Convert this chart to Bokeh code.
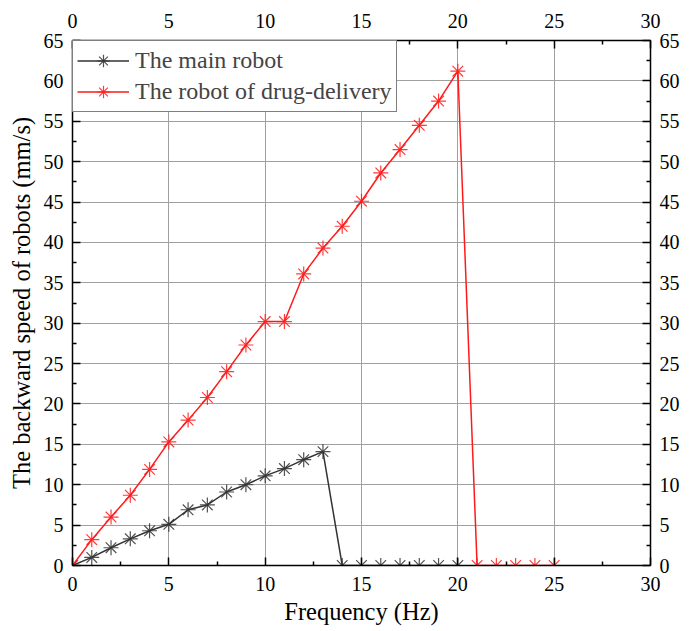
from bokeh.plotting import figure
from bokeh.models import Range1d, LinearAxis, FixedTicker, Legend, LegendItem, Grid
from bokeh.embed import file_html
from bokeh.resources import INLINE

freq_main = list(range(0, 21))
speed_main = [0, 1.0, 2.2, 3.3, 4.3, 5.1, 6.9, 7.5, 9.1, 10.0, 11.1, 12.0, 13.1, 14.1,
              0, 0, 0, 0, 0, 0, 0]
freq_drug = list(range(0, 26))
speed_drug = [0, 3.2, 6.0, 8.7, 11.9, 15.3, 18.0, 20.8, 24.0, 27.3, 30.2, 30.2, 36.1,
              39.3, 42.0, 45.1, 48.6, 51.5, 54.5, 57.5, 61.2, 0, 0, 0, 0, 0]
x_ticks = [0, 5, 10, 15, 20, 25, 30]
y_ticks = list(range(0, 70, 5))

FONT = "Liberation Serif"

p = figure(frame_width=578, frame_height=525,
           x_range=Range1d(0, 30), y_range=Range1d(0, 65),
           x_axis_type=None, y_axis_type=None,
           output_backend="svg", toolbar_location=None,
           min_border_left=72, min_border_top=40, min_border_right=30, min_border_bottom=40)
p.outline_line_color = None
p.background_fill_color = "white"

xt = FixedTicker(ticks=x_ticks, minor_ticks=[v + 2.5 for v in x_ticks[:-1]])
yt = FixedTicker(ticks=y_ticks, minor_ticks=[v + 2.5 for v in y_ticks[:-1]])

def make_axis(ticker, standoff):
    ax = LinearAxis(ticker=ticker)
    ax.axis_line_color = "black"
    ax.axis_line_width = 1.5
    ax.major_tick_in = 8
    ax.major_tick_out = 0
    ax.minor_tick_in = 4
    ax.minor_tick_out = 0
    ax.major_tick_line_color = "black"
    ax.minor_tick_line_color = "black"
    ax.major_tick_line_width = 1.5
    ax.minor_tick_line_width = 1.5
    ax.major_label_text_font = FONT
    ax.major_label_text_font_size = "20px"
    ax.major_label_text_color = "black"
    ax.major_label_standoff = standoff
    ax.axis_label_text_font = FONT
    ax.axis_label_text_font_size = "24.5px"
    ax.axis_label_text_font_style = "normal"
    ax.axis_label_text_color = "black"
    return ax

bottom = make_axis(xt, 11)
bottom.axis_label = "Frequency (Hz)"
bottom.axis_label_standoff = 4
left = make_axis(yt, 9)
left.axis_label = "The backward speed of robots (mm/s)"
left.axis_label_standoff = 6
top = make_axis(xt, 13)
right = make_axis(yt, 9)
p.add_layout(bottom, "below")
p.add_layout(left, "left")
p.add_layout(top, "above")
p.add_layout(right, "right")

for dim, t in [(0, xt), (1, yt)]:
    g = Grid(dimension=dim, ticker=t, grid_line_color="#a0a0a0", grid_line_width=1)
    p.add_layout(g)

black = "#333333"
red = "#ff1a1a"
l1 = p.line(freq_main, speed_main, line_color=black, line_width=1.5)
m1 = p.scatter(freq_main, speed_main, marker="asterisk", size=15, line_color=black,
               line_width=1.2, line_alpha=0.85)
l2 = p.line(freq_drug, speed_drug, line_color=red, line_width=1.5)
m2 = p.scatter(freq_drug, speed_drug, marker="asterisk", size=15, line_color=red,
               line_width=1.2, line_alpha=0.85)

legend = Legend(items=[LegendItem(label="The main robot", renderers=[l1, m1]),
                       LegendItem(label="The robot of drug-delivery", renderers=[l2, m2])],
                location="top_left")
legend.margin = 0
legend.padding = 4
legend.spacing = 0
legend.border_line_color = "black"
legend.border_line_width = 1.5
legend.background_fill_alpha = 1
legend.label_text_font = FONT
legend.label_text_font_size = "24px"
legend.glyph_width = 52
legend.glyph_height = 31
legend.label_standoff = 6
legend.label_height = 31
p.add_layout(legend)

open("out.html", "w").write(file_html(p, INLINE))
